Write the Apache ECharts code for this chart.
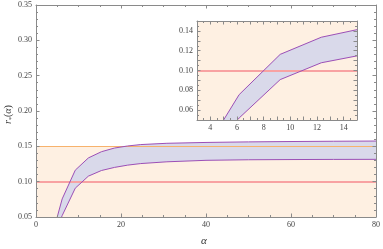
<!DOCTYPE html>
<html><head><meta charset="utf-8">
<script src="https://cdn.jsdelivr.net/npm/echarts@6/dist/echarts.min.js"></script>
<style>html,body{margin:0;padding:0;background:#fff}#c{width:383px;height:249px}</style>
</head><body><div id="c"></div>
<script>
const alpha = [3.08, 6.16, 9.24, 12.32, 15.4, 18.48, 21.56, 24.64, 30.8, 40, 50, 60, 70, 80];
const upper = [0.008, 0.0756, 0.1163, 0.1336, 0.1424, 0.1476, 0.1505, 0.1525, 0.1543, 0.1555, 0.1563, 0.1568, 0.1572, 0.1575];
const lower = [0.008, 0.052, 0.0908, 0.1078, 0.1158, 0.1202, 0.1234, 0.1256, 0.1281, 0.1302, 0.1310, 0.1313, 0.1315, 0.1316];
const limitHigh = 0.15;
const limitLow = 0.10;
const mainXTicks = [0, 20, 40, 60, 80];
const mainYTicks = [0.05, 0.10, 0.15, 0.20, 0.25, 0.30, 0.35];
const insetXTicks = [4, 6, 8, 10, 12, 14];
const insetYTicks = [0.06, 0.08, 0.10, 0.12, 0.14];

const FONT = 'Liberation Serif';
const AXC = '#8a8a8a';
const LBL = '#444';
const PEACH = '#fef0e2';
const BAND = '#d9d9ea';
const PURPLE = '#9b4fb6';

const upperPts = alpha.map((a, i) => [a, upper[i]]);
const lowerPts = alpha.map((a, i) => [a, lower[i]]);

function near(v, list) { return list.some(t => Math.abs(t - v) < 1e-6); }

function ax(grid, pos, min, max, interval, split, labels, fmt) {
  return {
    type: 'value', gridIndex: grid, position: pos, min, max, interval, z: 10,
    axisLine: { show: true, onZero: false, lineStyle: { color: AXC, width: 1 } },
    axisTick: { show: true, inside: true, length: 3.5, lineStyle: { color: AXC } },
    minorTick: { show: true, splitNumber: split, length: 2, lineStyle: { color: AXC } },
    splitLine: { show: false }, minorSplitLine: { show: false },
    axisLabel: labels ? { show: true, fontFamily: FONT, fontSize: 8, color: LBL, margin: 4, formatter: fmt, hideOverlap: false, showMinLabel: true, showMaxLabel: true } : { show: false }
  };
}

const option = {
  animation: false,
  backgroundColor: '#fff',
  grid: [
    { left: 36, top: 5, right: 4, bottom: 32, containLabel: false },
    { left: 197, top: 21, width: 160, height: 99, containLabel: false }
  ],
  xAxis: [
    ax(0, 'bottom', 0, 80, 20, 4, true, v => near(v, mainXTicks) ? String(v) : ''),
    ax(0, 'top', 0, 80, 20, 4, false),
    ax(1, 'bottom', 3, 15, 1, 2, true, v => near(v, insetXTicks) ? String(v) : ''),
    ax(1, 'top', 3, 15, 1, 2, false)
  ],
  yAxis: [
    ax(0, 'left', 0.05, 0.35, 0.05, 5, true, v => near(v, mainYTicks) ? v.toFixed(2) : ''),
    ax(0, 'right', 0.05, 0.35, 0.05, 5, false),
    ax(1, 'left', 0.05, 0.15, 0.01, 2, true, v => near(v, insetYTicks) ? v.toFixed(2) : ''),
    ax(1, 'right', 0.05, 0.15, 0.01, 2, false)
  ],
  graphic: [
    { type: 'text', left: 201, top: 236, style: { text: 'α', fontFamily: FONT, fontStyle: 'italic', fontSize: 11, fill: '#333' } },
    { type: 'text', x: 2, y: 124, rotation: Math.PI / 2,
      style: { text: '{r|r}{s|*}{p|(}{a|α}{p|)}', fontFamily: FONT, fontSize: 9, fill: '#333',
        rich: { r: { fontFamily: FONT, fontStyle: 'italic', fontSize: 10, fill: '#333' },
                s: { fontFamily: FONT, fontSize: 6, fill: '#333', verticalAlign: 'bottom', padding: [6, 0, 0, 0] },
                p: { fontFamily: FONT, fontSize: 10, fill: '#333' },
                a: { fontFamily: FONT, fontStyle: 'italic', fontSize: 10, fill: '#333' } } } }
  ],
  series: []
};

function addGrid(xIdx, yIdx, xmin, xmax) {
  // peach region below the upper limit
  option.series.push({
    type: 'line', xAxisIndex: xIdx, yAxisIndex: yIdx, z: 1, silent: true,
    data: [[xmin, limitHigh], [xmax, limitHigh]], symbol: 'none',
    lineStyle: { width: 0, opacity: 0 }, areaStyle: { color: PEACH, opacity: 1, origin: 'start' }
  });
  // band: upper filled lavender, lower filled peach on top
  option.series.push({
    type: 'line', xAxisIndex: xIdx, yAxisIndex: yIdx, z: 2, silent: true,
    data: upperPts, symbol: 'none', lineStyle: { width: 0, opacity: 0 },
    areaStyle: { color: BAND, opacity: 1, origin: 'start' }
  });
  option.series.push({
    type: 'line', xAxisIndex: xIdx, yAxisIndex: yIdx, z: 3, silent: true,
    data: lowerPts, symbol: 'none', lineStyle: { width: 0, opacity: 0 },
    areaStyle: { color: PEACH, opacity: 1, origin: 'start' }
  });
  option.series.push({
    type: 'line', xAxisIndex: xIdx, yAxisIndex: yIdx, z: 4, silent: true, data: [],
    markLine: { silent: true, symbol: 'none', label: { show: false },
      data: [
        { yAxis: limitHigh, lineStyle: { color: '#f7b26c', width: 1, type: 'solid' } },
        { yAxis: limitLow, lineStyle: { color: '#f8a2a2', width: 2, type: 'solid' } }
      ] }
  });
  option.series.push({
    type: 'line', xAxisIndex: xIdx, yAxisIndex: yIdx, z: 5, silent: true,
    data: upperPts, symbol: 'none', lineStyle: { color: PURPLE, width: 1 }
  });
  option.series.push({
    type: 'line', xAxisIndex: xIdx, yAxisIndex: yIdx, z: 5, silent: true,
    data: lowerPts, symbol: 'none', lineStyle: { color: PURPLE, width: 1 }
  });
}
addGrid(0, 0, 0, 80);
addGrid(2, 2, 3, 15);

const chart = echarts.init(document.getElementById('c'), null, { renderer: 'canvas' });
chart.setOption(option);
</script></body></html>
